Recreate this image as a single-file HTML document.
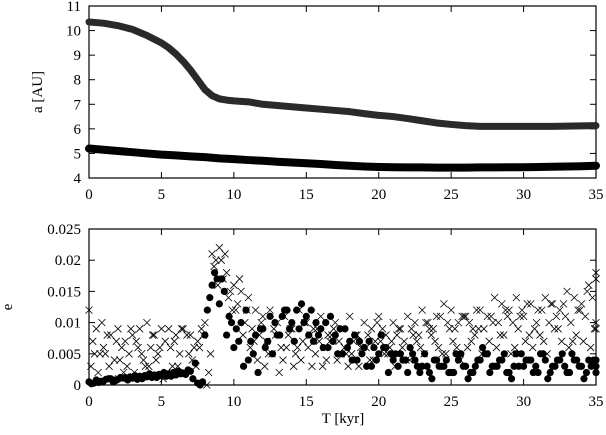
<!DOCTYPE html>
<html><head><meta charset="utf-8"><style>
body{margin:0;background:#fff}
svg{display:block}
text{font-family:"Liberation Serif",serif;font-size:15px;fill:#000}
</style></head><body>
<svg id="chart" width="606" height="435" viewBox="0 0 606 435" xmlns="http://www.w3.org/2000/svg">
<g id="topPanel"></g>
<g id="botPanel"></g>
<text transform="translate(42,92) rotate(-90)" text-anchor="middle">a [AU]</text>
<text transform="translate(12,307) rotate(-90)" text-anchor="middle">e</text>
<text x="343" y="423" text-anchor="middle">T [kyr]</text>
</svg>
<script>
const xTicks=[0,5,10,15,20,25,30,35];
const aTicks=[4,5,6,7,8,9,10,11];
const eTicks=[0,0.005,0.01,0.015,0.02,0.025];
const eTickLabels=["0","0.005","0.01","0.015","0.02","0.025"];
const aTimeOuter=[0,1,2,3,4,5,5.5,6,6.5,7,7.5,8,8.5,9,9.5,10,11,12,13,14,15,16,17,18,19,20,21,22,23,24,25,26,27,28,29,30,31,32,33,34,35];
const aOuter=[10.35,10.3,10.2,10.05,9.8,9.5,9.3,9.05,8.75,8.4,8.0,7.6,7.35,7.22,7.17,7.14,7.1,7.0,6.95,6.9,6.85,6.8,6.75,6.7,6.62,6.55,6.5,6.42,6.33,6.24,6.18,6.13,6.1,6.1,6.1,6.1,6.1,6.1,6.11,6.12,6.13];
const aTimeInner=[0,1,2,3,4,5,6,7,8,9,10,11,12,13,14,15,16,17,18,19,20,21,22,23,24,25,26,27,28,29,30,31,32,33,34,35];
const aInner=[5.2,5.15,5.1,5.05,5.0,4.95,4.92,4.88,4.85,4.8,4.77,4.73,4.7,4.66,4.63,4.6,4.57,4.53,4.5,4.47,4.45,4.44,4.43,4.43,4.42,4.42,4.42,4.43,4.43,4.44,4.44,4.45,4.46,4.47,4.48,4.5];
const eDotsA=[0.5,0.8,0.6,1.0,0.9,1.2,1.1,1.4,1.3,1.6,1.5,1.8,1.6,1.9,2.2,0.3,8,16,13,8,6,10,4,8,9,11,8,12,10,9,11,7,9,6,8,5,7,4,6,3,5,6,4,5,2,4,3,2,4,3,2,4,3,2,4,5,3,4,2,5,3,4,2,4,3,4,2,4,3,4,2];
const eDotsB=[0.2,0.4,0.9,0.5,1.2,0.8,1.5,1.0,1.8,1.2,2.0,1.4,2.2,1.7,1.0,0.0,12,18,17,11,9,3,7,2,6,5,8,12,7,13,8,10,6,11,5,9,4,7,3,6,8,2,5,4,6,3,5,1,3,4,2,5,1,3,6,2,3,5,1,3,4,2,5,1,3,5,2,4,1,3,4];
const eDotsC=[0.3,0.6,1.0,0.7,1.1,1.3,0.9,1.5,1.2,1.7,1.4,2.0,1.8,2.4,3.5,0.5,14,17,15,10,7,12,5,9,7,10,11,9,12,10,12,8,10,7,9,6,8,5,7,4,6,5,3,4,5,2,3,4,3,2,5,3,2,4,5,3,4,2,3,5,4,3,5,2,4,3,5,3,2,4,3];
const eCrossA=[12,9,6,8,9,7,8,9,10,8,9,9,8,9,8,7,10,21,22,18,16,15,14,12,11,12,10,11,9,12,10,9,11,8,10,9,11,8,10,9,11,8,10,9,11,10,12,9,11,13,12,10,11,9,12,11,14,13,12,14,11,13,12,14,13,12,15,14,13,16,17];
const eCrossB=[3,2,5,1,4,3,2,5,3,4,1,6,3,2,4,6,0,19,20,14,12,8,6,4,3,5,2,6,3,4,6,5,3,7,4,6,5,3,6,4,7,5,3,6,4,7,5,8,6,5,7,4,6,8,5,7,6,8,5,9,7,6,8,5,9,7,6,8,7,6,9];
const eCrossC=[7,5,8,4,6,5,7,4,6,5,7,3,5,8,6,9,2,20,17,15,13,10,9,8,7,9,6,8,5,7,8,9,6,8,7,5,7,6,8,7,9,6,8,7,9,8,10,9,11,10,9,11,10,12,9,11,10,12,10,11,13,9,12,10,11,13,10,12,11,14,10];
const eCrossD=[5,10,3,7,2,9,6,3,8,6,2,7,9,5,3,8,5,16,21,12,17,12,7,10,5,8,4,9,6,10,3,7,4,9,5,3,8,6,4,10,5,7,9,4,8,6,10,7,5,9,6,11,7,9,5,10,8,11,6,12,8,10,7,13,9,11,7,12,15,9,18];

const NS="http://www.w3.org/2000/svg";
const L=89,R=596;
const X=t=>L+(t/35)*(R-L);
const T0=6,T1=178; const YA=a=>T1-(a-4)/7*(T1-T0);
const B0=229,B1=385; const YE=e=>B1-(e/0.025)*(B1-B0);
function mk(tag,attrs,parent){const el=document.createElementNS(NS,tag);for(const k in attrs)el.setAttribute(k,attrs[k]);parent.appendChild(el);return el;}
const gTop=document.getElementById('topPanel'), gBot=document.getElementById('botPanel');

function frame(g,y0,y1,yt,yf,labels,name){
  const r=mk('rect',{x:L,y:y0,width:R-L,height:y1-y0,fill:'none',stroke:'#000','stroke-width':1.2},g);
  
  
  xTicks.forEach(t=>{
    mk('line',{x1:X(t),x2:X(t),y1:y1,y2:y1-6,stroke:'#000'},g);
    mk('line',{x1:X(t),x2:X(t),y1:y0,y2:y0+6,stroke:'#000'},g);
    const tx=mk('text',{x:X(t),y:y1+21,'text-anchor':'middle'},g);tx.textContent=t;
    
    
  });
  yt.forEach((v,i)=>{
    const y=yf(v);
    mk('line',{x1:L,x2:L+6,y1:y,y2:y,stroke:'#000'},g);
    mk('line',{x1:R,x2:R-6,y1:y,y2:y,stroke:'#000'},g);
    const tx=mk('text',{x:L-8,y:y+5,'text-anchor':'end'},g);tx.textContent=labels[i];
    
    
  });
}
frame(gTop,T0,T1,aTicks,YA,aTicks.map(String),'top-panel');
frame(gBot,B0,B1,eTicks,YE,eTickLabels,'bottom-panel');

const po=mk('polyline',{points:aTimeOuter.map((t,i)=>X(t)+','+YA(aOuter[i])).join(' '),fill:'none',stroke:'#2a2a2a','stroke-width':7,'stroke-linejoin':'round','stroke-linecap':'round'},gTop);


const pi=mk('polyline',{points:aTimeInner.map((t,i)=>X(t)+','+YA(aInner[i])).join(' '),fill:'none',stroke:'#000','stroke-width':8,'stroke-linejoin':'round','stroke-linecap':'round'},gTop);



function crosses(arr,off){
  arr.forEach((v,i)=>{
    const x=X(Math.min(35,i*0.5+off)),y=YE(v*0.001),s=3.5;
    const p=mk('path',{d:`M${x-s},${y-s}L${x+s},${y+s}M${x-s},${y+s}L${x+s},${y-s}`,stroke:'#000','stroke-width':0.8,fill:'none'},gBot);
    
    
  });
}
function dots(arr,off){
  arr.forEach((v,i)=>{
    const c=mk('circle',{cx:X(Math.min(35,i*0.5+off)),cy:YE(v*0.001),r:3.6,fill:'#000'},gBot);
    
    
  });
}
crosses(eCrossA,0);crosses(eCrossB,0.13);crosses(eCrossC,0.26);crosses(eCrossD,0.39);
dots(eDotsA,0);dots(eDotsB,0.17);dots(eDotsC,0.34);
</script>
</body></html>
